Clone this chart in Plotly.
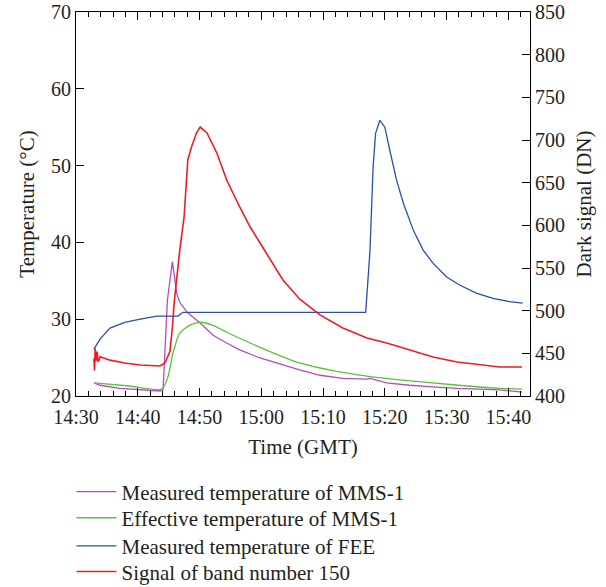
import plotly.graph_objects as go

# Time in minutes after 14:30 GMT
tick_minutes = [0, 10, 20, 30, 40, 50, 60, 70]
tick_labels = ["14:30", "14:40", "14:50", "15:00", "15:10", "15:20", "15:30", "15:40"]

# Measured temperature of MMS-1 (deg C)
mms_t = [2.9, 3.9, 7.1, 10.4, 13.6, 14.1, 14.8, 15.6, 16.3, 16.8, 18.0, 20.1, 22.2, 24.4,
         26.5, 29.8, 33.5, 36.2, 39.5, 43.2, 47.1, 47.6, 50.3, 54.0, 57.8, 61.7, 68.6, 72.2]
mms_v = [21.7, 21.4, 21.0, 20.8, 20.65, 20.8, 32.5, 37.5, 33.4, 32.2, 30.9, 29.5, 27.9, 26.9,
         26.0, 24.95, 24.0, 23.4, 22.7, 22.3, 22.2, 22.3, 21.7, 21.4, 21.2, 21.0, 20.8, 20.5]

# Effective temperature of MMS-1 (deg C)
eff_t = [2.9, 8.7, 13.9, 14.9, 15.7, 16.8, 18.4, 20.1, 22.2, 24.4, 28.2, 33.5, 36.2, 41.6,
         47.1, 52.4, 57.8, 63.3, 68.6, 72.2]
eff_v = [21.7, 21.3, 20.9, 22.5, 25.6, 28.2, 29.2, 29.6, 29.2, 28.3, 26.9, 25.1, 24.3, 23.3,
         22.6, 22.1, 21.7, 21.3, 21.0, 20.9]

# Measured temperature of FEE (deg C)
fee_t = [2.9, 3.9, 5.5, 7.9, 10.4, 13.1, 16.5, 17.3, 46.9, 47.6, 48.1, 48.5, 49.2, 50.0,
         50.8, 51.9, 53.0, 54.6, 56.2, 57.8, 60.0, 62.1, 64.8, 67.5, 70.2, 72.3]
fee_v = [26.1, 27.4, 28.85, 29.6, 30.0, 30.4, 30.4, 30.9, 30.9, 39.0, 49.8, 54.2, 55.9, 55.0,
         52.0, 48.1, 45.1, 41.6, 39.0, 37.3, 35.5, 34.45, 33.4, 32.7, 32.3, 32.1]

# Signal of band number 150 (dark signal, DN)
sig_t = [2.9, 3.0, 3.1, 3.25, 3.4, 3.6, 3.9, 5.5, 7.9, 10.4, 13.6, 14.4, 15.2, 15.6, 15.9,
         16.4, 16.8, 17.5, 18.1, 18.7, 19.5, 20.1, 21.2, 22.8, 24.4, 26.5, 28.2, 30.3, 33.5,
         36.2, 39.5, 43.2, 47.1, 50.3, 54.0, 57.8, 61.7, 64.9, 68.6, 72.2]
sig_v = [444, 430, 456, 441, 452, 440, 446, 442, 438.7, 436.3, 435.2, 438.7, 452, 480, 510,
         548, 571, 610, 676.6, 691.8, 708.2, 715.2, 708.2, 684.8, 653.1, 621.5, 598, 573.4, 536,
         513.7, 495, 479.7, 468, 462, 453.9, 445.7, 439.8, 437.5, 434, 434]

font_family = "Liberation Serif"
txt = "#231f20"

fig = go.Figure()
fig.add_trace(go.Scatter(x=mms_t, y=mms_v, mode="lines", name="Measured temperature of MMS-1",
                         line=dict(color="#b64db6", width=1.3), legend="legend"))
fig.add_trace(go.Scatter(x=eff_t, y=eff_v, mode="lines", name="Effective temperature of MMS-1",
                         line=dict(color="#5cc03c", width=1.3, shape="spline", smoothing=0.6),
                         legend="legend2"))
fig.add_trace(go.Scatter(x=fee_t, y=fee_v, mode="lines", name="Measured temperature of FEE",
                         line=dict(color="#2c4ea8", width=1.3), legend="legend3"))
fig.add_trace(go.Scatter(x=sig_t, y=sig_v, mode="lines", name="Signal of band number 150",
                         line=dict(color="#ee1c24", width=1.6), yaxis="y2", legend="legend4"))

def leg(yc):
    return dict(x=-0.01, y=yc, xanchor="left", yanchor="middle",
                font=dict(size=21, color=txt), bgcolor="rgba(0,0,0,0)", itemwidth=40)

fig.update_layout(
    width=606, height=587,
    margin=dict(l=76, r=76, t=12, b=191, autoexpand=False),
    paper_bgcolor="white", plot_bgcolor="white",
    font=dict(family=font_family, size=20, color=txt),
    showlegend=True,
    legend=leg(-0.250),
    legend2=leg(-0.318),
    legend3=leg(-0.391),
    legend4=leg(-0.458),
    xaxis=dict(range=[0, 73.5], tickvals=tick_minutes, ticktext=tick_labels,
               ticks="inside", ticklen=8, tickcolor="black", tickwidth=1,
               showline=True, linecolor="black", linewidth=1.2, mirror="ticks",
               showgrid=False, zeroline=False, automargin=False, ticklabelstandoff=3,
               minor=dict(dtick=2, ticks="inside", ticklen=5, tickcolor="black", showgrid=False),
               title=dict(text="Time (GMT)", font=dict(size=21), standoff=12)),
    yaxis=dict(range=[20, 70], dtick=10, ticks="inside", ticklen=8, tickcolor="black",
               showline=True, linecolor="black", linewidth=1.2,
               showgrid=False, zeroline=False, automargin=False,
               title=dict(text="Temperature (°C)", font=dict(size=21), standoff=10)),
    yaxis2=dict(range=[400, 850], dtick=50, ticks="inside", ticklen=8, tickcolor="black",
                overlaying="y", side="right", automargin=False,
                showline=True, linecolor="black", linewidth=1.2,
                showgrid=False, zeroline=False,
                title=dict(text="Dark signal (DN)", font=dict(size=21), standoff=12)),
)

fig.write_html("out.html")
